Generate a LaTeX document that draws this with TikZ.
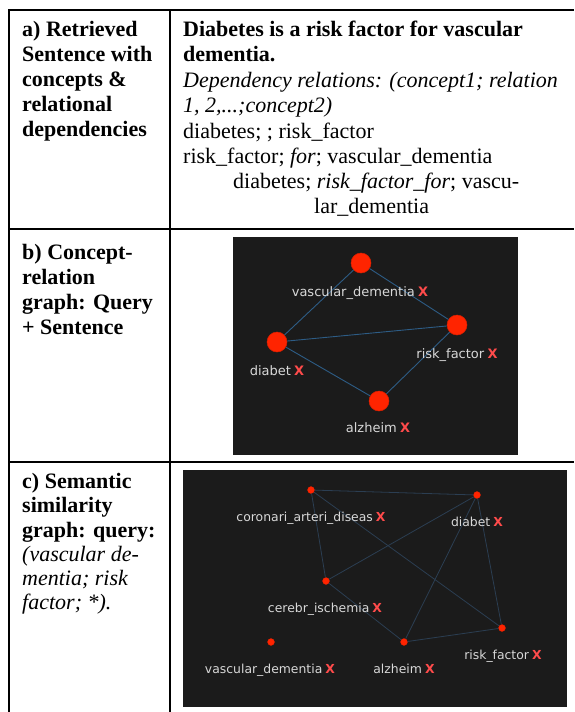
\documentclass[tikz,border=0pt]{standalone}
\usepackage{fontspec}
\setmainfont{Liberation Serif}
\newfontfamily\gfont{DejaVu Sans}
\definecolor{panel}{HTML}{1B1B1B}
\definecolor{nodered}{HTML}{FF2400}
\definecolor{xred}{HTML}{FF4B4B}
\definecolor{lbl}{HTML}{D8D8D8}
\definecolor{edgeb}{HTML}{2D5C85}
\definecolor{edgec}{HTML}{2B3E52}
\begin{document}
\begin{tikzpicture}[x=1pt,y=-1pt,
  tbl/.style={line width=2pt,black},
  ln/.style={anchor=base west,inner sep=0pt,font=\fontsize{22}{25}\selectfont},
  lnb/.style={ln,font=\fontsize{22}{25}\selectfont\bfseries},
  lni/.style={ln,font=\fontsize{22}{25}\selectfont\itshape},
  bnode/.style={circle,fill=nodered,draw=nodered!85!black,line width=0.5pt,minimum size=20pt,inner sep=0pt},
  cnode/.style={circle,fill=nodered,draw=nodered!85!black,line width=0.3pt,minimum size=7pt,inner sep=0pt},
  blab/.style={anchor=base,inner sep=0pt,text=lbl,font=\gfont\fontsize{13}{15}\selectfont},
  clab/.style={anchor=base,inner sep=0pt,text=lbl,font=\gfont\fontsize{12.4}{14}\selectfont},
  bedge/.style={draw=edgeb,line width=0.9pt},
  cedge/.style={draw=edgec,line width=0.8pt}
]
\newcommand{\xm}{\hspace{0.25em}{\color{xred}\bfseries X}}
\useasboundingbox (0,0) rectangle (574,712);
\fill[white] (0,0) rectangle (574,712);
% table rules
\draw[tbl] (8,10) -- (574,10);
\draw[tbl] (8,229) -- (574,229);
\draw[tbl] (8,462) -- (574,462);
\draw[tbl] (9,9) -- (9,712);
\draw[tbl] (170,9) -- (170,712);
% row a left
\node[lnb] (a1) at (22,36) {a) Retrieved};
\node[lnb] (a2) at (22,61) {Sentence with};
\node[lnb] (a3) at (22,86) {concepts \&};
\node[lnb] (a4) at (22,111) {relational};
\node[lnb] (a5) at (22,136) {dependencies};
% row a right
\node[lnb] (r1) at (183,36) {Diabetes is a risk factor for vascular};
\node[lnb] (r2) at (183,61) {dementia.};
\node[lni] (r3) at (183,87) {Dependency relations: (concept1; relation};
\node[lni] (r4) at (183,112) {1, 2,...;concept2)};
\node[ln] (r5) at (183,138) {diabetes; ; risk\_factor};
\node[ln] (r6) at (183,163) {risk\_factor; \textit{for}; vascular\_dementia};
\node[ln] (r7) at (233,188) {diabetes; \textit{risk\_factor\_for}; vascu-};
\node[ln] (r8) at (314,213) {lar\_dementia};
% row b left
\node[lnb] (b1) at (22,259) {b) Concept-};
\node[lnb] (b2) at (22,284) {relation};
\node[lnb] (b3) at (22,309) {graph: Query};
\node[lnb] (b4) at (22,334) {+ Sentence};
% row c left
\node[lnb] (c1) at (22,488) {c) Semantic};
\node[lnb] (c2) at (22,512) {similarity};
\node[lnb] (c3) at (22,537) {graph: query:};
\node[lni] (c4) at (22,561) {(vascular de-};
\node[lni] (c5) at (22,585) {mentia; risk};
\node[lni] (c6) at (22,609) {factor; *).};
% panel b
\fill[panel] (233,237) rectangle (518,455);
\node[bnode] (bvd) at (361,263) {};
\node[bnode] (brf) at (457,325) {};
\node[bnode] (bdi) at (277,342) {};
\node[bnode] (bal) at (379,401) {};
\draw[bedge] (bvd) -- (bdi);
\draw[bedge] (bvd) -- (brf);
\draw[bedge] (bdi) -- (brf);
\draw[bedge] (bdi) -- (bal);
\draw[bedge] (bal) -- (brf);
\node[blab] (lbvd) at (360,296) {vascular\_dementia\xm};
\node[blab] (lbrf) at (457,358) {risk\_factor\xm};
\node[blab] (lbdi) at (277,375) {diabet\xm};
\node[blab] (lbal) at (378,432) {alzheim\xm};
% panel c
\fill[panel] (183,470) rectangle (567,707);
\node[cnode] (cco) at (311,490) {};
\node[cnode] (cdi) at (477,495) {};
\node[cnode] (cce) at (326,581) {};
\node[cnode] (cvd) at (271,642) {};
\node[cnode] (cal) at (404,642) {};
\node[cnode] (crf) at (502,628) {};
\draw[cedge] (cco) -- (cdi);
\draw[cedge] (cco) -- (cce);
\draw[cedge] (cco) -- (crf);
\draw[cedge] (cdi) -- (cce);
\draw[cedge] (cdi) -- (cal);
\draw[cedge] (cdi) -- (crf);
\draw[cedge] (cce) -- (cal);
\draw[cedge] (cal) -- (crf);
\node[clab] (lcco) at (311,521) {coronari\_arteri\_diseas\xm};
\node[clab] (lcdi) at (477,526) {diabet\xm};
\node[clab] (lcce) at (325,612) {cerebr\_ischemia\xm};
\node[clab] (lcvd) at (270,673) {vascular\_dementia\xm};
\node[clab] (lcal) at (404,673) {alzheim\xm};
\node[clab] (lcrf) at (503,659) {risk\_factor\xm};
\end{tikzpicture}
\end{document}
